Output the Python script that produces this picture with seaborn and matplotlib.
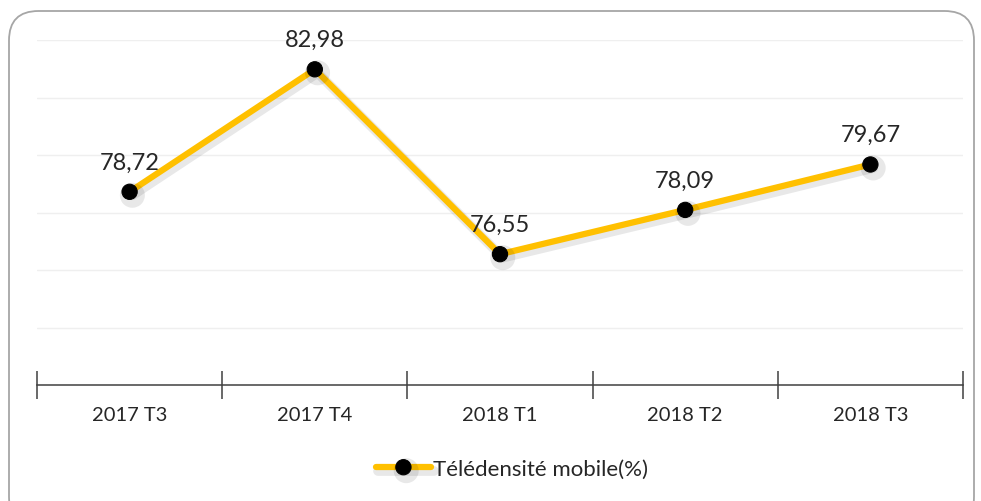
import matplotlib
matplotlib.use("Agg")
import matplotlib.pyplot as plt
import matplotlib.patheffects as pe
from matplotlib.patches import FancyBboxPatch
import seaborn as sns
import pandas as pd

categories = ["2017 T3", "2017 T4", "2018 T1", "2018 T2", "2018 T3"]
values = [78.72, 82.98, 76.55, 78.09, 79.67]
series_name = "Télédensité mobile(%)"

sns.set_theme(style="white")
plt.rcParams['font.family'] = ['Lato', 'DejaVu Sans']

df = pd.DataFrame({"cat": range(len(categories)), "val": values, "series": series_name})

fig = plt.figure(figsize=(9.81, 5.02), dpi=100)
# rounded frame
frame = FancyBboxPatch((9/981, -0.05), 965/981, 1 - 12/502 + 0.05,
                       boxstyle="round,pad=0,rounding_size=0.03",
                       transform=fig.transFigure, facecolor="white",
                       edgecolor="#a6a6a6", linewidth=1.3, mutation_aspect=981/502,
                       zorder=-10)
fig.patches.append(frame)

ax = fig.add_axes([37/981, 1 - 386/502, (963 - 37)/981, (386 - 41)/502])
ax.set_zorder(5)
ax.set_facecolor("none")

sns.lineplot(data=df, x="cat", y="val", hue="series", palette=["#FFC000"],
             linewidth=4.5, marker="o", markersize=11, markerfacecolor="black",
             markeredgecolor="black", ax=ax, zorder=3,
             path_effects=[pe.SimpleLineShadow(offset=(2, -2.5), shadow_color="black", alpha=0.09, linewidth=7), pe.Normal()])

ax.set_xlim(-0.5, len(categories) - 0.5)
ax.set_ylim(72, 84)
ax.set_yticks([74, 76, 78, 80, 82, 84])
ax.yaxis.grid(True, color="#efefef", linewidth=1)
ax.tick_params(axis="y", left=False, labelleft=False)

ax.set_xticks([i - 0.5 for i in range(len(categories) + 1)])
ax.set_xticklabels([])
ax.set_xticks(range(len(categories)), minor=True)
ax.set_xticklabels(categories, minor=True, fontsize=14.5, color="#262626")
ax.tick_params(axis="x", which="major", direction="inout", length=20, width=1.1, color="#404040", bottom=True)
ax.tick_params(axis="x", which="minor", length=0, pad=15)

for s in ["top", "right", "left"]:
    ax.spines[s].set_visible(False)
ax.spines["bottom"].set_color("#404040")
ax.spines["bottom"].set_linewidth(1.1)
ax.set_xlabel("")
ax.set_ylabel("")

for i, v in enumerate(values):
    ax.annotate(f"{v:.2f}".replace(".", ","), (i, v), xytext=(0, 14),
                textcoords="offset points", ha="center", va="bottom",
                fontsize=17, color="#262626")

leg = ax.legend(loc="center", bbox_to_anchor=(0.513, (470 - 386) / -(386 - 41)),
                frameon=False, fontsize=16, handlelength=2.5, handletextpad=0.1)
for t in leg.get_texts():
    t.set_color("#262626")

fig.savefig("out.png", dpi=100)
